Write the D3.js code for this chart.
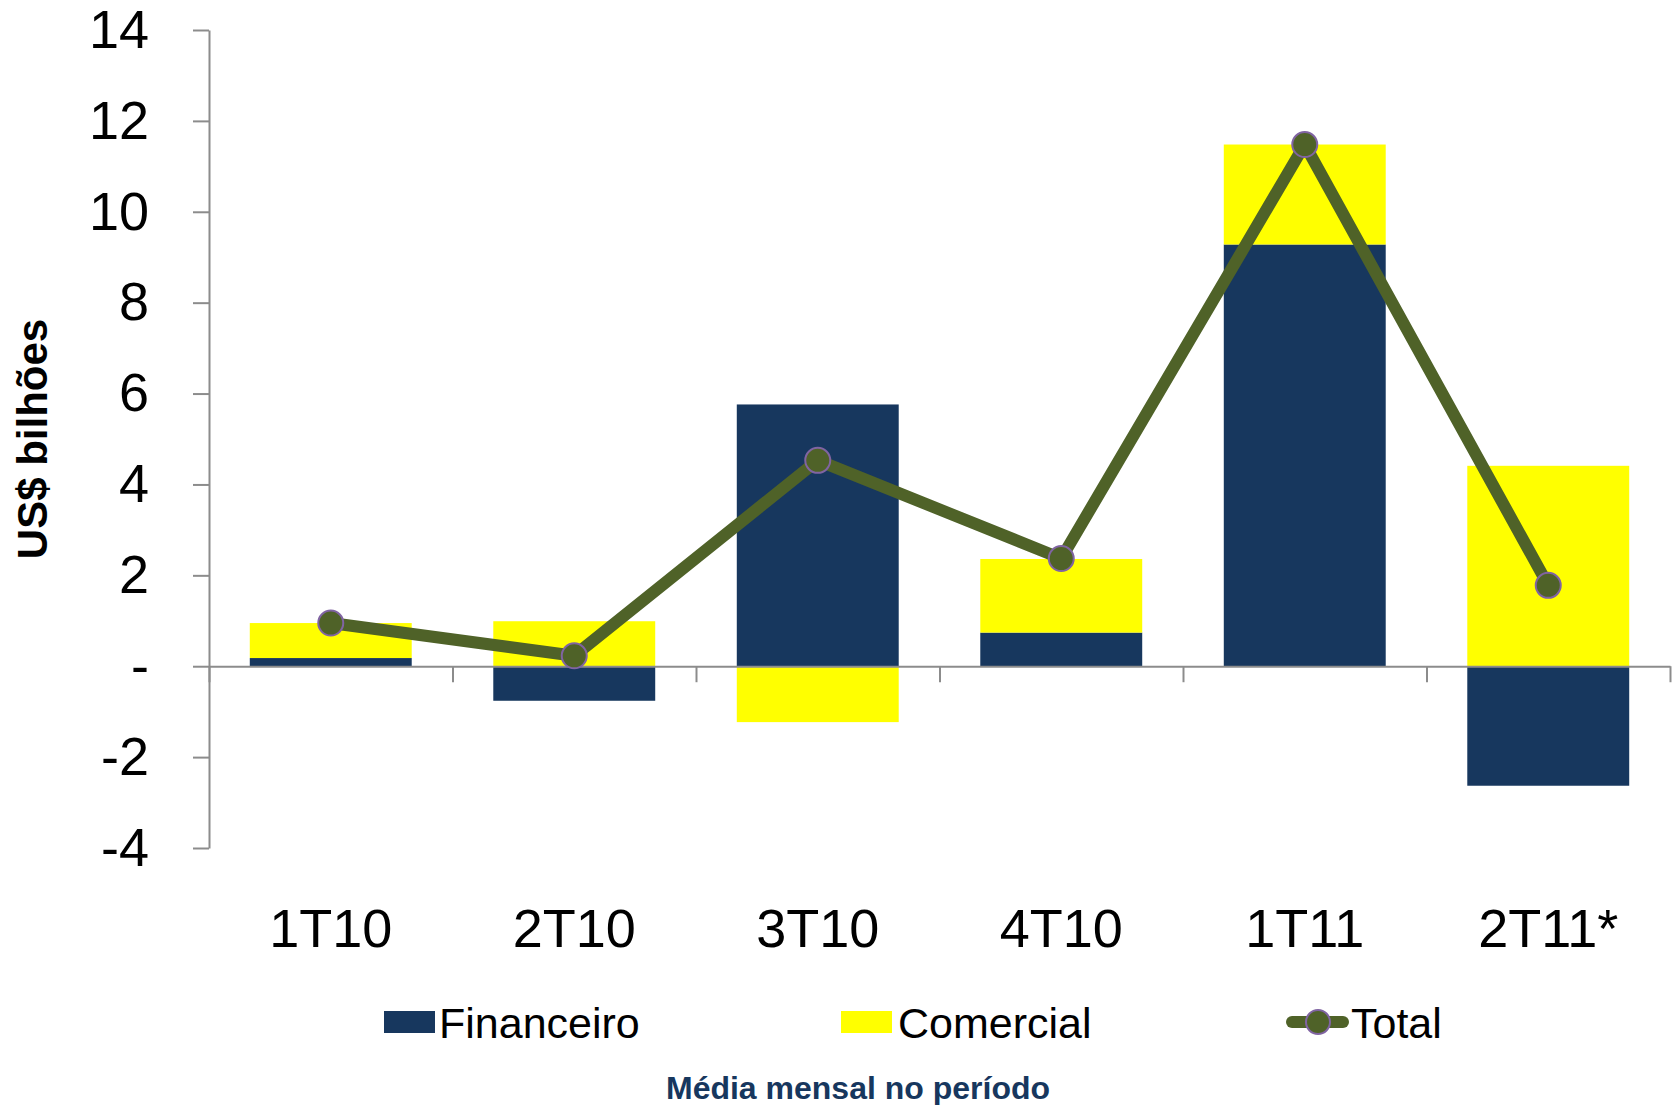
<!DOCTYPE html>
<html>
<head>
<meta charset="utf-8">
<script src="https://cdn.jsdelivr.net/npm/d3@7"></script>
<style>
  html, body { margin: 0; padding: 0; background: #fff; }
  svg { display: block; font-family: "Liberation Sans", Arial, sans-serif; }
</style>
</head>
<body>
<svg id="chart" width="1675" height="1105"></svg>
<script>
// ---- data ----
const categories = ["1T10", "2T10", "3T10", "4T10", "1T11", "2T11*"];
const financeiro = [0.18, -0.76, 5.76, 0.74, 9.28, -2.63];
const comercial  = [0.77, 0.99, -1.23, 1.62, 2.20, 4.41];
const total      = [0.95, 0.23, 4.53, 2.37, 11.48, 1.78];
const yTicks = [-4, -2, 0, 2, 4, 6, 8, 10, 12, 14];
const seriesNames = ["Financeiro", "Comercial", "Total"];

// ---- styles ----
const C_FIN = "#17375e", C_COM = "#ffff00", C_TOT = "#4f6228", C_MRK = "#8064a2";
const C_AXIS = "#8c8c8c";

const svg = d3.select("#chart");

const x = d3.scaleBand().domain(categories).range([209, 1670])
  .paddingInner(0.335).paddingOuter(0.1675);
const y = d3.scaleLinear().domain([-4, 14]).range([848, 30]);

// stacked (diverging) bars
const rows = categories.map((c, i) => ({ cat: c, Financeiro: financeiro[i], Comercial: comercial[i] }));
const stack = d3.stack().keys(["Financeiro", "Comercial"]).offset(d3.stackOffsetDiverging);
const layers = stack(rows);
const colors = { Financeiro: C_FIN, Comercial: C_COM };

svg.append("g").selectAll("g").data(layers).join("g")
  .attr("fill", d => colors[d.key])
  .selectAll("rect").data(d => d).join("rect")
  .attr("x", d => x(d.data.cat))
  .attr("width", x.bandwidth())
  .attr("y", d => y(Math.max(d[0], d[1])))
  .attr("height", d => Math.abs(y(d[0]) - y(d[1])));

// Y axis
const yAxis = d3.axisLeft(y).tickValues(yTicks).tickSize(16).tickSizeOuter(0)
  .tickFormat(d => d === 0 ? "-" : String(d));
const gy = svg.append("g").attr("transform", "translate(209,0)").call(yAxis);
gy.select(".domain").attr("stroke", C_AXIS).attr("stroke-width", 2);
gy.selectAll(".tick line").attr("stroke", C_AXIS).attr("stroke-width", 2);
gy.selectAll(".tick text").attr("x", -60).attr("font-size", 54)
  .attr("font-family", "Liberation Sans, Arial, sans-serif").attr("fill", "#000");

// X axis at zero
const boundaries = d3.range(categories.length + 1)
  .map(i => x.range()[0] + i * x.step());
const xb = d3.scaleLinear().domain(x.range()).range(x.range());
const xAxisLine = d3.axisBottom(xb).tickValues(boundaries).tickSize(16).tickSizeOuter(0).tickFormat("");
const gx = svg.append("g").attr("transform", `translate(0,${y(0)})`).call(xAxisLine);
gx.select(".domain").attr("stroke", C_AXIS).attr("stroke-width", 2);
gx.selectAll(".tick line").attr("stroke", C_AXIS).attr("stroke-width", 2);

// category labels
const xLabels = d3.axisBottom(x).tickSize(0).tickPadding(0);
const gl = svg.append("g").attr("transform", "translate(0,947)").call(xLabels);
gl.select(".domain").remove();
gl.selectAll(".tick text").attr("dy", 0).attr("y", 0).attr("font-size", 54)
  .attr("font-family", "Liberation Sans, Arial, sans-serif").attr("fill", "#000");

// Total line
const cx = c => x(c) + x.bandwidth() / 2;
const line = d3.line().x((d, i) => cx(categories[i])).y(d => y(d));
svg.append("path").datum(total).attr("d", line)
  .attr("fill", "none").attr("stroke", C_TOT).attr("stroke-width", 12)
  .attr("stroke-linejoin", "round");
svg.append("g").selectAll("circle").data(total).join("circle")
  .attr("cx", (d, i) => cx(categories[i])).attr("cy", d => y(d))
  .attr("r", 12.5).attr("fill", C_TOT).attr("stroke", C_MRK).attr("stroke-width", 2);

// Y title
svg.append("text").attr("transform", "translate(47,439) rotate(-90)")
  .attr("text-anchor", "middle").attr("font-size", 42).attr("font-weight", "bold")
  .attr("fill", "#000").text("US$ bilhões");

// Legend
const lg = svg.append("g");
lg.append("rect").attr("x", 384).attr("y", 1011).attr("width", 51).attr("height", 22).attr("fill", C_FIN);
lg.append("text").attr("x", 439).attr("y", 1038).attr("font-size", 43).attr("fill", "#000").text(seriesNames[0]);
lg.append("rect").attr("x", 841).attr("y", 1011).attr("width", 51).attr("height", 22).attr("fill", C_COM);
lg.append("text").attr("x", 898).attr("y", 1038).attr("font-size", 43).attr("fill", "#000").text(seriesNames[1]);
lg.append("line").attr("x1", 1292).attr("x2", 1343).attr("y1", 1022).attr("y2", 1022)
  .attr("stroke", C_TOT).attr("stroke-width", 12).attr("stroke-linecap", "round");
lg.append("circle").attr("cx", 1318).attr("cy", 1022).attr("r", 12)
  .attr("fill", C_TOT).attr("stroke", C_MRK).attr("stroke-width", 2);
lg.append("text").attr("x", 1351).attr("y", 1038).attr("font-size", 43).attr("fill", "#000").text(seriesNames[2]);

// Footer title
svg.append("text").attr("x", 858).attr("y", 1099).attr("text-anchor", "middle")
  .attr("font-size", 32).attr("font-weight", "bold").attr("fill", "#17375e")
  .text("Média mensal no período");
</script>
</body>
</html>
